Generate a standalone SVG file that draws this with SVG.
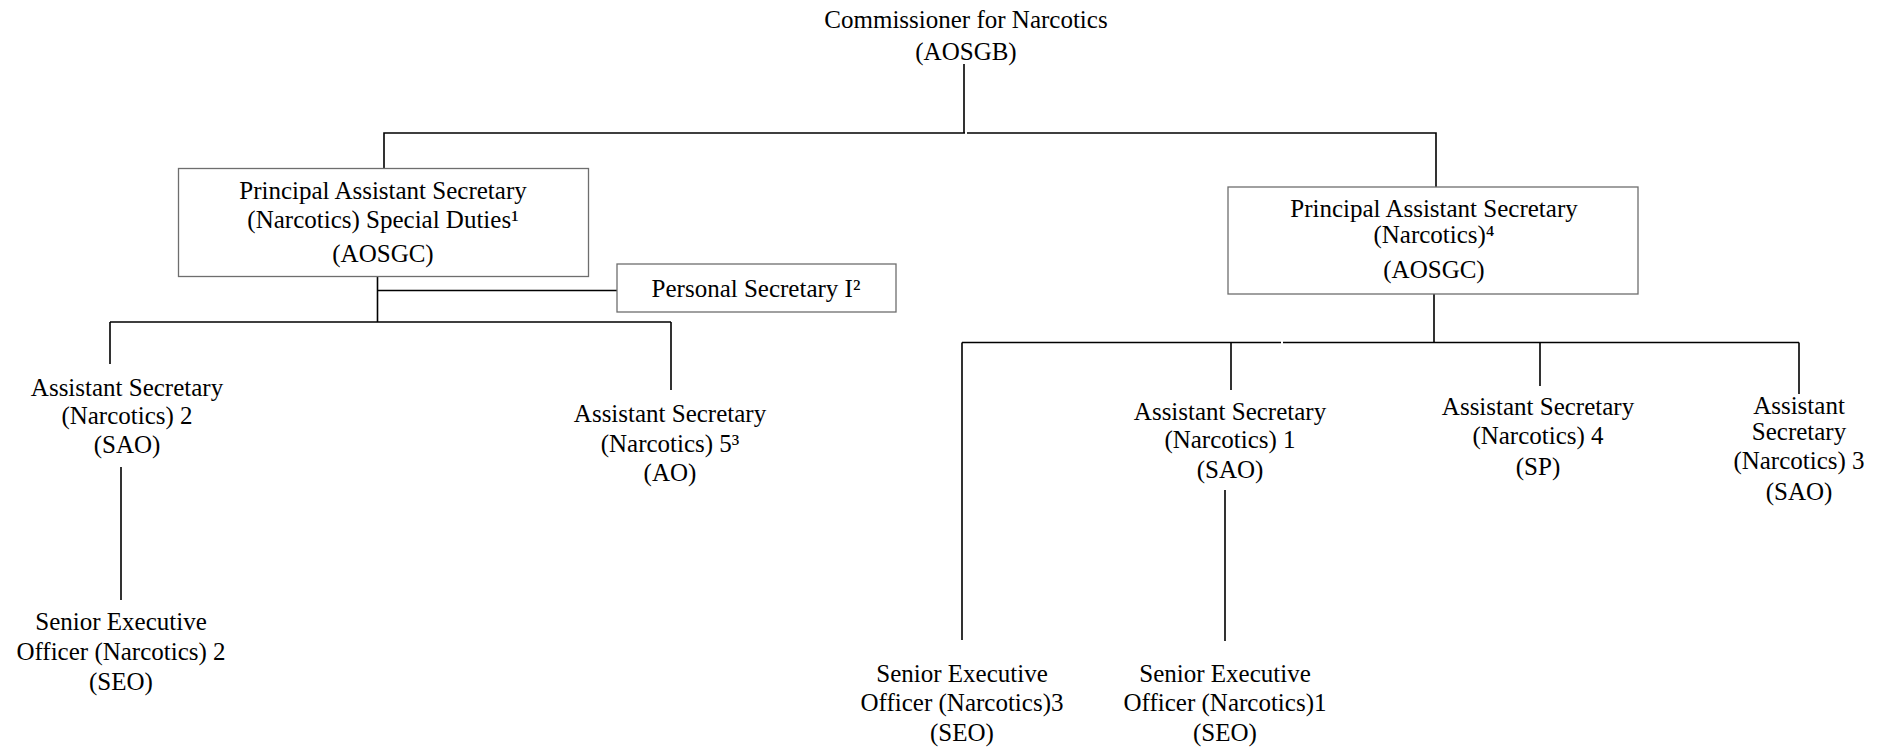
<svg xmlns="http://www.w3.org/2000/svg" width="1881" height="748" viewBox="0 0 1881 748">
<style>
text{font-size:25px;fill:#000;text-anchor:middle}
.box{fill:#fff;stroke:#6e6e6e;stroke-width:1.3}
.ln{stroke:#000;stroke-width:1.6;fill:none}
</style>
<rect width="1881" height="748" fill="#fff"/>
<g id="connectors">
<path class="ln" d="M964 64V133M965 133H384V169M967 133H1436V187"/>
<path class="ln" d="M377.5 277V322M377.5 290.5H617M110 322H671M110 322V364M671 322V390M121 467V600"/>
<path class="ln" d="M1434 294V342.5M962 342.5H1281M1283 342.5H1799M962 342.5V640M1231 342.5V390M1540 342.5V386M1799 342.5V394M1225 490V641"/>
</g>
<g font-family="Liberation Serif, serif">
<g id="commissioner"><text x="966" y="28">Commissioner for Narcotics</text><text x="966" y="60">(AOSGB)</text></g>
<g id="pas-special"><rect class="box" x="178.5" y="168.5" width="410" height="108"/><text x="383" y="199">Principal Assistant Secretary</text><text x="383" y="228">(Narcotics) Special Duties¹</text><text x="383" y="262">(AOSGC)</text></g>
<g id="personal-secretary"><rect class="box" x="617" y="264" width="279" height="48"/><text x="756" y="297">Personal Secretary I²</text></g>
<g id="as2"><text x="127" y="396">Assistant Secretary</text><text x="127" y="424">(Narcotics) 2</text><text x="127" y="453">(SAO)</text></g>
<g id="seo2"><text x="121" y="630">Senior Executive</text><text x="121" y="660">Officer (Narcotics) 2</text><text x="121" y="690">(SEO)</text></g>
<g id="as5"><text x="670" y="422">Assistant Secretary</text><text x="670" y="452">(Narcotics) 5³</text><text x="670" y="481">(AO)</text></g>
<g id="pas"><rect class="box" x="1228" y="187" width="410" height="107"/><text x="1434" y="217">Principal Assistant Secretary</text><text x="1434" y="243">(Narcotics)⁴</text><text x="1434" y="278">(AOSGC)</text></g>
<g id="as1"><text x="1230" y="420">Assistant Secretary</text><text x="1230" y="448">(Narcotics) 1</text><text x="1230" y="478">(SAO)</text></g>
<g id="as4"><text x="1538" y="415">Assistant Secretary</text><text x="1538" y="444">(Narcotics) 4</text><text x="1538" y="475">(SP)</text></g>
<g id="as3"><text x="1799" y="414">Assistant</text><text x="1799" y="440">Secretary</text><text x="1799" y="469">(Narcotics) 3</text><text x="1799" y="500">(SAO)</text></g>
<g id="seo3"><text x="962" y="682">Senior Executive</text><text x="962" y="711">Officer (Narcotics)3</text><text x="962" y="741">(SEO)</text></g>
<g id="seo1"><text x="1225" y="682">Senior Executive</text><text x="1225" y="711">Officer (Narcotics)1</text><text x="1225" y="741">(SEO)</text></g>
</g>
</svg>
